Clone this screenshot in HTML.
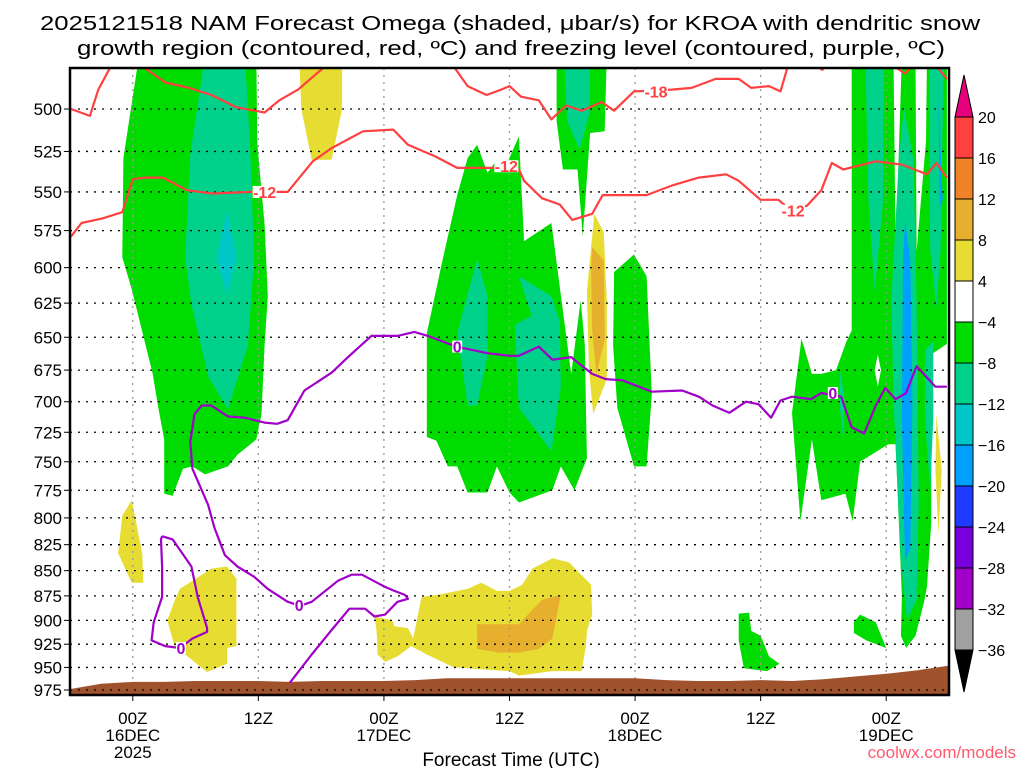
<!DOCTYPE html>
<html><head><meta charset="utf-8"><style>
html,body{margin:0;padding:0;background:#fff;width:1024px;height:768px;overflow:hidden}
svg{display:block;font-family:"Liberation Sans","DejaVu Sans",sans-serif}
</style></head><body>
<svg id="chart" width="1024" height="768" viewBox="0 0 1024 768" xmlns="http://www.w3.org/2000/svg">
<defs><clipPath id="plotclip"><rect x="70" y="68" width="879" height="627"/></clipPath></defs>
<text x="40" y="30" font-size="20" textLength="940" lengthAdjust="spacingAndGlyphs">2025121518 NAM Forecast Omega (shaded, μbar/s) for KROA with dendritic snow</text>
<text x="77" y="55" font-size="20" textLength="868" lengthAdjust="spacingAndGlyphs">growth region (contoured, red, ºC) and freezing level (contoured, purple, ºC)</text>
<g id="shading" clip-path="url(#plotclip)"></g>
<g id="grid"></g>
<g id="terrain" clip-path="url(#plotclip)"></g>
<g id="contours" clip-path="url(#plotclip)"></g>
<g id="axes"></g>
<g id="cbar"></g>
<text x="511" y="766" font-size="19" text-anchor="middle">Forecast Time (UTC)</text>
<text x="1016" y="758" font-size="17" text-anchor="end" fill="#ff5a6e">coolwx.com/models</text>
</svg>
<script>
// ---- axis data ----
const pressureLevels=[500,525,550,575,600,625,650,675,700,725,750,775,800,825,850,875,900,925,950,975];
const timeTickHours=[6,18,30,42,54,66,78];
const timeTickLine1=["00Z","12Z","00Z","12Z","00Z","12Z","00Z"];
const timeTickLine2=["16DEC","","17DEC","","18DEC","","19DEC"];
const timeTickLine3=["2025","","","","","",""];
const cbarLabels=["20","16","12","8","4","−4","−8","−12","−16","−20","−24","−28","−32","−36"];
const cbarColors=["#ff4040","#f08228","#e6af2d","#e6dc32","#ffffff","#00dc00","#00d28c","#00c8c8","#00a0ff","#1e3cff","#7800dc","#a000c8","#a0a0a0"];
// ---- shaded omega regions [hour, pressure] ----
const greenBlob1=[[6.6,470],[5.1,529],[5.0,593],[5.9,615],[7.9,678],[8.4,703],[9.0,731],[9.0,778],[9.8,780],[10.8,756],[11.7,754],[12.9,761],[15.1,754],[16.0,744],[17.8,731],[18.3,710],[18.6,656],[18.9,620],[18.6,571],[17.9,520],[17.8,470]];
const tealBlob1=[[12.9,470],[11.5,527],[11.0,593],[11.6,626],[13.2,680],[15.1,706],[17.0,656],[17.6,593],[17.2,520],[16.7,470]];
const cyanBlob1=[[15.0,562],[15.9,593],[15.0,619],[14.0,593]];
const yellowTop=[[21.9,470],[22.1,500],[23.1,530],[25.0,530],[26,500],[26,470]];
const yellowSmall=[[5.9,784],[5.0,798],[4.6,833],[5.9,862],[7.0,862],[6.9,833]];
const yellowLow1=[[10.5,868],[13.5,848],[15.0,846],[15.9,858],[15.9,927],[15.0,929],[15.0,946],[13.1,955],[10.0,927],[9.3,900],[10.0,880]];
const yellowLow2=[[29.1,896],[30.8,900],[31.0,906],[32.3,908],[32.8,919],[33.6,876],[35.1,874],[38.0,868],[39.3,862],[40.8,870],[42.0,870],[43.2,864],[44.2,848],[46.1,838],[47.7,842],[49.8,864],[49.9,894],[49.4,911],[49.3,927],[48.9,954],[46.1,954],[42.9,959],[42.0,954],[36.7,950],[34.1,936],[32.6,927],[31.3,938],[30.1,944],[29.4,936],[29.3,911]];
const orangeLow2=[[38.9,904],[40.4,904],[42.9,904],[45.1,879],[46.9,874],[46.1,919],[44.8,930],[42.9,934],[41.0,934],[38.9,930]];
const greenBlob2=[[38.9,521],[39.9,538],[40.8,530],[41.5,536],[42.9,516],[43.4,582],[46.0,570],[47.9,678],[48.8,623],[49.2,656],[49.4,747],[48.2,775],[46.9,754],[46.1,775],[42.9,786],[42.0,777],[40.8,754],[39.9,777],[38.0,777],[37.0,754],[36.1,754],[35.0,732],[34.1,729],[34.1,647],[35.5,598],[37.0,552],[38.0,529]];
const greenStrip=[[46.5,470],[51.3,470],[51.1,513],[49.7,514],[49.0,579],[48.5,536],[47.1,536],[46.5,507]];
const tealStrip=[[47.2,470],[49.7,470],[49.7,501],[48.7,524],[47.5,507]];
const tealBlob2a=[[38.9,594],[39.9,620],[39.9,664],[38.9,703],[38.0,703],[37.0,647]];
const tealBlob2b=[[42.9,606],[46.0,620],[46.8,638],[46.9,688],[46.0,741],[42.9,705],[42.5,641],[44.1,634]];
const yellowVert=[[50.1,564],[51.0,576],[51.3,623],[51.3,682],[50.0,710],[49.6,675],[49.4,617]];
const orangeVert=[[49.9,586],[51.0,595],[51.1,652],[50.3,678],[49.9,645],[49.8,602]];
const greenBlob3=[[52.0,603],[53.9,591],[55.1,606],[55.6,694],[55.1,754],[53.9,754],[52.3,705],[51.9,656]];
const greenRight=[[74.7,470],[83.8,470],[83.8,655],[82.3,663],[82.3,805],[81.9,866],[81.6,882],[80.8,916],[79.9,929],[79.4,916],[79.5,876],[78.9,735],[78.2,735],[75.5,750],[74.8,803],[74.1,778],[71.8,784],[70.9,731],[69.8,803],[69.0,709],[69.9,651],[70.9,678],[71.8,678],[73.2,675],[74.2,653],[74.7,645]];
const whiteWedgeA=[[78.7,470],[79.5,470],[78.9,589]];
const whiteWedgeB=[[80.8,470],[81.9,470],[81.8,519],[80.9,589]];
const whiteHole=[[76.9,675],[77.2,663],[77.5,675],[77.2,688]];
const tealCol1=[[76.0,470],[77.8,470],[77.7,555],[76.9,617],[76.3,555]];
const tealCol2=[[79.7,499],[80.6,530],[80.9,623],[81.1,784],[80.9,879],[80.0,900],[79.4,840],[78.7,700],[78.5,623],[79.2,530]];
const blueCol2=[[79.8,568],[80.3,595],[80.5,700],[80.3,829],[79.8,840],[79.5,715],[79.6,595]];
const tealCol3=[[82.1,470],[83.5,470],[83.2,588],[82.8,629],[82.2,588]];
const blueCol3=[[83.0,495],[83.4,555],[83.1,560]];
const tealRightLow=[[81.7,660],[82.5,653],[82.5,714],[82.2,775],[81.7,714]];
const tealSmall=[[73.6,675],[74.0,698],[73.9,733],[73.5,698]];
const yellowRight=[[82.8,710],[83.3,757],[83.0,815],[82.7,757]];
const greenSmallA=[[74.9,902],[75.5,894],[77.0,902],[78.0,929],[76.1,921],[74.9,913]];
const greenSmallB=[[63.9,893],[64.9,892],[65.1,911],[66.0,916],[66.8,938],[67.8,946],[66.6,954],[64.4,951],[63.9,921]];
// ---- surface pressure (terrain) ----
const terrainHours=[0,1.5,3,6,9,12,15,18,21,24,27,30,33,36,39,42,45,48,51,54,57,60,63,66,69,72,75,78,81,84];
const terrainPres=[974,971,968,966,966,965,965,965,966,965,965,965,964,962,962,962,962,962,962,962,964,965,965,964,965,963,960,957,953,948];
// ---- contours ----
const red12=[[0.1,579],[1.1,570],[3.1,567],[5.0,563],[6.0,542],[7.2,541],[8.9,541],[11.2,549],[13.6,551],[17.4,550],[20.8,550],[23.2,531],[25.0,523],[28.0,513],[30.9,512],[32.3,521],[34.9,528],[37.0,535],[40.6,535],[42.9,536],[43.4,543],[45.1,554],[46.8,558],[48.0,568],[49.9,564],[50.9,552],[55.1,552],[57.5,546],[60.1,541],[62.7,539],[63.9,543],[66.0,555],[67.7,555],[68.4,559],[70.4,559],[71.8,549],[72.8,532],[73.9,536],[77.0,531],[79.5,533],[81.9,539],[82.8,532],[83.8,541]];
const red18a=[[0.1,500],[1.9,504],[2.7,489],[4.1,474]];
const red18b=[[6.4,474],[9.1,485],[11.4,488],[13.5,492],[15.9,499],[18.6,502],[20.0,495],[21.8,489],[24.8,474]];
const red18c=[[36.4,474],[38.0,487],[39.8,492],[41.2,489],[42.0,487],[43.1,493],[44.8,495],[46.0,506],[47.4,498],[48.9,501],[50.8,496],[52.0,501],[53.9,490],[57.5,489],[59.4,488],[61.7,483],[63.9,483],[65.1,488],[66.8,487],[67.9,490],[68.7,474]];
const red18d=[[70.9,474],[71.9,478],[72.4,474]];
const red18e=[[78.2,474],[79.8,480],[80.8,474]];
const red18f=[[82.5,474],[83.8,483]];
const purpleMain=[[21.0,967],[23.1,936],[25.0,910],[26.7,888],[28.2,888],[29.1,896],[30.1,894],[31.3,881],[32.3,878],[32.0,874],[31.0,870],[30.1,866],[27.9,854],[26.9,854],[25.6,860],[23.1,881],[22.0,885],[20.8,881],[18.9,868],[17.6,856],[16.0,846],[14.8,835],[13.8,809],[13.2,788],[11.7,756],[11.5,733],[11.9,710],[12.6,703],[13.5,703],[15.1,712],[16.7,713],[18.6,717],[19.8,718],[20.8,715],[21.8,700],[22.4,691],[23.7,684],[25.0,677],[26.7,664],[28.8,649],[31.3,649],[32.9,646],[34.2,649],[36.9,657],[39.9,662],[42.0,664],[42.9,664],[44.8,657],[46.1,667],[47.9,665],[48.5,669],[49.9,678],[51.2,682],[52.8,683],[55.6,692],[58.5,691],[60.1,696],[61.4,703],[63.0,709],[64.6,700],[65.8,702],[67.0,713],[67.9,699],[69.0,696],[70.8,698],[71.8,693],[73.7,696],[74.7,721],[75.9,726],[77.0,703],[77.9,689],[78.9,698],[79.9,693],[80.9,672],[82.7,688],[83.8,688]];
const purpleLoop=[[8.8,817],[9.8,820],[11.6,846],[12.2,876],[13.1,908],[13.1,912],[11.7,919],[10.5,929],[9.1,927],[7.8,921],[8.0,902],[8.8,876],[8.8,846],[8.7,820],[8.8,817]];
const redLabelPos=[[18.6,550],[41.7,534],[69.1,562]];
const redLabelText=["-12","-12","-12"];
const red18LabelPos=[[56.0,490]];
const purpleLabelPos=[[21.9,884],[37.0,657],[72.9,693],[10.6,929]];

const NS="http://www.w3.org/2000/svg";
const X0=70,X1=949,Y0=68,Y1=695,HMAX=84;
function X(h){return X0+h*(X1-X0)/HMAX;}
function Y(p){return 109+870*Math.log(p/500);}
function mk(tag,attrs,parent){const e=document.createElementNS(NS,tag);for(const k in attrs)e.setAttribute(k,attrs[k]);parent.appendChild(e);return e;}
function pts(arr){return arr.map(d=>X(d[0]).toFixed(1)+","+Y(d[1]).toFixed(1)).join(" ");}

const shading=document.getElementById('shading');
function poly(arr,fill,name){const e=mk('polygon',{points:pts(arr),fill:fill},shading);

}
poly(greenBlob1,"#00dc00","omega-region-green-1");
poly(tealBlob1,"#00d28c","omega-region-teal-1");
poly(cyanBlob1,"#00c8c8","omega-region-cyan-1");
poly(yellowTop,"#e6dc32","omega-region-yellow-top");
poly(yellowSmall,"#e6dc32","omega-region-yellow-small");
poly(yellowLow1,"#e6dc32","omega-region-yellow-low-1");
poly(yellowLow2,"#e6dc32","omega-region-yellow-low-2");
poly(orangeLow2,"#e6af2d","omega-region-orange-low-2");
poly(greenBlob2,"#00dc00","omega-region-green-2");
poly(greenStrip,"#00dc00","omega-region-green-strip");
poly(tealStrip,"#00d28c","omega-region-teal-strip");
poly(tealBlob2a,"#00d28c","omega-region-teal-2a");
poly(tealBlob2b,"#00d28c","omega-region-teal-2b");
poly(yellowVert,"#e6dc32","omega-region-yellow-vertical");
poly(orangeVert,"#e6af2d","omega-region-orange-vertical");
poly(greenBlob3,"#00dc00","omega-region-green-3");
poly(greenRight,"#00dc00","omega-region-green-right");
poly(whiteWedgeA,"#ffffff","omega-gap-a");
poly(whiteWedgeB,"#ffffff","omega-gap-b");
poly(whiteHole,"#ffffff","omega-hole");
poly(tealCol1,"#00d28c","omega-region-teal-col-1");
poly(tealCol2,"#00d28c","omega-region-teal-col-2");
poly(blueCol2,"#00a0ff","omega-region-blue-col-2");
poly(tealCol3,"#00d28c","omega-region-teal-col-3");
poly(blueCol3,"#00a0ff","omega-region-blue-col-3");
poly(tealRightLow,"#00d28c","omega-region-teal-right-low");
poly(tealSmall,"#00d28c","omega-region-teal-small");
poly(yellowRight,"#e6dc32","omega-region-yellow-right");
poly(greenSmallA,"#00dc00","omega-region-green-small-a");
poly(greenSmallB,"#00dc00","omega-region-green-small-b");

// terrain
const terr=document.getElementById('terrain');
let tp=terrainHours.map((h,i)=>X(h).toFixed(1)+","+Y(terrainPres[i]).toFixed(1)).join(" ");
tp+=" "+X(HMAX)+","+Y1+" "+X(0)+","+Y1;
const tpoly=mk('polygon',{points:tp,fill:"#a0522d"},terr);



// grid
const grid=document.getElementById('grid');
pressureLevels.forEach(p=>{const l=mk('line',{x1:X0,x2:X1,y1:Y(p),y2:Y(p),stroke:"#000","stroke-width":1.3,"stroke-dasharray":"2 6"},grid);

});
timeTickHours.forEach((h,i)=>{const l=mk('line',{x1:X(h),x2:X(h),y1:Y0,y2:Y1,stroke:"#999","stroke-width":1.3,"stroke-dasharray":"2 5"},grid);

});

// contours
const cont=document.getElementById('contours');
function line(arr,color,name){const e=mk('polyline',{points:pts(arr),fill:"none",stroke:color,"stroke-width":2.2,"stroke-linejoin":"round"},cont);

}
line(red12,"#ff4040","contour-minus12");
[red18a,red18b,red18c,red18d,red18e,red18f].forEach((a,i)=>line(a,"#ff4040","contour-minus18-seg-"+(i+1)));
line(purpleMain,"#a000c8","freezing-level-contour");
line(purpleLoop,"#a000c8","freezing-level-loop");
function lab(pos,txt,color,name){const w=txt.length>1?24:10;
mk('rect',{x:X(pos[0])-w/2,y:Y(pos[1])-6,width:w,height:12,fill:"#ffffff"},cont);
const t=mk('text',{x:X(pos[0]),y:Y(pos[1])+6,"font-size":16,"font-weight":"bold","text-anchor":"middle",fill:color},cont);


t.textContent=txt;}
redLabelPos.forEach((p,i)=>lab(p,redLabelText[i],"#ff4040","contour-label-minus12"));
red18LabelPos.forEach(p=>lab(p,"-18","#ff4040","contour-label-minus18"));
purpleLabelPos.forEach(p=>lab(p,"0","#a000c8","freezing-label-0"));

// axes
const ax=document.getElementById('axes');
const l975=mk('line',{x1:X0,x2:X1,y1:Y(975),y2:Y(975),stroke:"#000","stroke-width":1.3,"stroke-dasharray":"2 6"},ax);


const frame=mk('rect',{x:X0,y:Y0,width:X1-X0,height:Y1-Y0,fill:"none",stroke:"#000","stroke-width":2.5},ax);


pressureLevels.forEach(p=>{mk('line',{x1:X0-6,x2:X0,y1:Y(p),y2:Y(p),stroke:"#000","stroke-width":1},ax);
const t=mk('text',{x:X0-8,y:Y(p)+6,"font-size":17,"text-anchor":"end"},ax);


t.textContent=p;});
timeTickHours.forEach((h,i)=>{mk('line',{x1:X(h),x2:X(h),y1:Y1,y2:Y1+6,stroke:"#000","stroke-width":1},ax);
[timeTickLine1[i],timeTickLine2[i],timeTickLine3[i]].forEach((s,j)=>{if(!s)return;
const t=mk('text',{x:X(h),y:724+j*17,"font-size":17,"text-anchor":"middle"},ax);


t.textContent=s;});});

// colorbar
const cb=document.getElementById('cbar');
const CX=955,CW=18,CTOP=117,CSTEP=41;
const tri1=mk('polygon',{points:`${CX},${CTOP} ${CX+CW},${CTOP} ${CX+CW/2},${CTOP-42}`,fill:"#e6007e",stroke:"#000","stroke-width":1},cb);


cbarColors.forEach((c,i)=>{const r=mk('rect',{x:CX,y:CTOP+i*CSTEP,width:CW,height:CSTEP,fill:c,stroke:"#000","stroke-width":1},cb);

});
const bot=CTOP+cbarColors.length*CSTEP;
const tri2=mk('polygon',{points:`${CX},${bot} ${CX+CW},${bot} ${CX+CW/2},${bot+42}`,fill:"#000",stroke:"#000","stroke-width":1},cb);


cbarLabels.forEach((s,i)=>{const t=mk('text',{x:CX+CW+5,y:CTOP+i*CSTEP+6,"font-size":16},cb);


t.textContent=s;});
</script>
</body></html>
